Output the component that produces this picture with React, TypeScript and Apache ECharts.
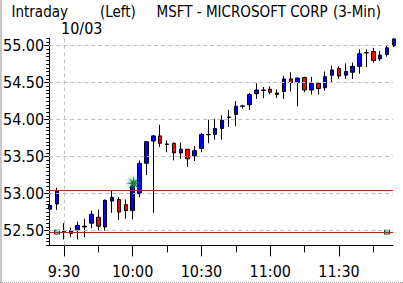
import React, { useEffect, useRef } from 'react';
import * as echarts from 'echarts';

// ---- data ----
const titleParts = ['Intraday', '(Left)', 'MSFT - MICROSOFT CORP', '(3-Min)'];
const dateLabel = '10/03';

const candleIndex = [
  0, 1, 2, 3, 4, 5, 6, 7, 8, 9, 10, 11, 12, 13, 14, 15, 16, 17, 18, 19, 20, 21, 22, 23, 24, 25,
  26, 27, 28, 29, 30, 31, 32, 33, 34, 35, 36, 37, 38, 39, 40, 41, 42, 43, 44, 45, 46, 47, 48, 49, 50,
];
const opens = [
  52.79, 52.86, 52.48, 52.46, 52.51, 52.55, 52.6, 52.68, 52.55, 52.9, 52.92, 52.85, 52.77, 53.0,
  53.41, 53.71, 53.78, 53.665, 53.68, 53.55, 53.6, 53.51, 53.61, 53.795, 53.8, 53.88, 54.03, 54.07,
  54.18, 54.2, 54.35, 54.395, 54.41, 54.36, 54.38, 54.55, 54.5, 54.57, 54.4, 54.49, 54.43, 54.6,
  54.69, 54.6, 54.64, 54.72, 54.9, 54.92, 54.82, 54.88, 55.0,
];
const closes = [
  52.84, 53.04, 52.49, 52.5, 52.57, 52.56, 52.72, 52.56, 52.91, 52.95, 52.75, 52.77, 53.1, 53.41,
  53.7, 53.78, 53.68, 53.67, 53.55, 53.6, 53.47, 53.58, 53.8, 53.8, 53.88, 53.99, 54.035, 54.18,
  54.185, 54.34, 54.4, 54.4, 54.37, 54.34, 54.55, 54.5, 54.56, 54.4, 54.49, 54.42, 54.58, 54.67,
  54.59, 54.65, 54.72, 54.89, 54.905, 54.8, 54.87, 54.97, 55.09,
];
const lows = [
  52.7, 52.78, 52.38, 52.41, 52.38, 52.41, 52.53, 52.5, 52.5, 52.74, 52.64, 52.66, 52.65, 52.95,
  53.25, 52.74, 53.63, 53.56, 53.45, 53.47, 53.36, 53.44, 53.56, 53.68, 53.73, 53.73, 53.9, 53.91,
  54.15, 54.13, 54.28, 54.29, 54.34, 54.29, 54.28, 54.38, 54.18, 54.37, 54.34, 54.34, 54.39, 54.5,
  54.55, 54.55, 54.55, 54.62, 54.71, 54.77, 54.79, 54.85, 54.98,
];
const highs = [
  52.95, 53.08, 52.6, 52.54, 52.62, 52.66, 52.77, 52.78, 52.92, 53.05, 52.95, 52.92, 53.16, 53.45,
  53.71, 53.79, 53.93, 53.72, 53.69, 53.69, 53.6, 53.64, 53.82, 54.0, 54.01, 54.06, 54.13, 54.25,
  54.2, 54.36, 54.49, 54.44, 54.45, 54.41, 54.59, 54.64, 54.57, 54.58, 54.58, 54.5, 54.65, 54.73,
  54.72, 54.76, 54.77, 54.95, 54.95, 54.97, 54.93, 55.0, 55.1,
];

const yLabelValues = [52.5, 53.0, 53.5, 54.0, 54.5, 55.0];
const xMajorIndex = [2, 12, 22, 32, 42];
const xMajorLabels = ['9:30', '10:00', '10:30', '11:00', '11:30'];
const xMinorIndex = [7, 17, 27, 37, 47];
const sessionStartIndex = 2;
const levelLines = [53.04, 52.48];
const levelMarkerIndex = [1, 49];
const signalPoint = [12.14, 53.14];

// ---- layout / style ----
const W = 403;
const H = 283;
const FONT = "'Liberation Sans Narrow', 'Arial Narrow', 'DejaVu Sans Condensed', 'Noto Sans', sans-serif";
const titleX = [11.5, 100, 156.5, 333];
const STAR =
  'path://M12 0L13.5 8.4L20.5 3.5L15.6 10.5L24 12L15.6 13.5L20.5 20.5L13.5 15.6L12 24L10.5 15.6L3.5 20.5L8.4 13.5L0 12L8.4 10.5L3.5 3.5L10.5 8.4Z';

export default function App() {
  const ref = useRef<HTMLDivElement>(null);

  useEffect(() => {
    if (!ref.current) return;
    const chart = echarts.init(ref.current, undefined, { renderer: 'svg' });
    const xMin = -1 / 7;
    const xMax = 50 - 1 / 7;
    const black = { color: '#000', width: 1 };

    const candleData = candleIndex.map((i) => [i, opens[i], closes[i], lows[i], highs[i]]);

    const option: any = {
      animation: false,
      backgroundColor: '#ffffff',
      grid: { left: 43, top: 38.2, width: 350, height: 207.2, containLabel: false },
      xAxis: [
        {
          type: 'value',
          min: xMin,
          max: xMax,
          position: 'bottom',
          axisLine: { show: true, onZero: false, lineStyle: black },
          axisTick: { show: true, customValues: xMajorIndex, length: 11, lineStyle: black },
          axisLabel: {
            show: true,
            customValues: xMajorIndex,
            formatter: (v: number) => {
              const k = xMajorIndex.indexOf(Math.round(v));
              return k >= 0 ? xMajorLabels[k] : '';
            },
            color: '#000',
            fontFamily: FONT,
            fontSize: 16,
            margin: 26,
            verticalAlign: 'middle',
          },
          splitLine: { show: false },
        },
        {
          type: 'value',
          min: xMin,
          max: xMax,
          position: 'bottom',
          axisLine: { show: false, onZero: false },
          axisTick: { show: true, customValues: xMinorIndex, length: 7, lineStyle: black },
          axisLabel: { show: false },
          splitLine: { show: false },
        },
      ],
      yAxis: [
        {
          type: 'value',
          min: 52.3,
          max: 55.1,
          interval: 0.05,
          position: 'left',
          axisLine: { show: true, onZero: false, lineStyle: black },
          axisTick: { show: true, length: 3, lineStyle: black },
          axisLabel: {
            show: true,
            customValues: yLabelValues,
            formatter: (v: number) => v.toFixed(2),
            color: '#000',
            fontFamily: FONT,
            fontSize: 16,
            margin: 5,
          },
          splitLine: { show: false },
        },
        {
          type: 'value',
          min: 52.3,
          max: 55.1,
          position: 'left',
          axisLine: { show: false, onZero: false },
          axisTick: { show: true, customValues: yLabelValues, length: 5, lineStyle: black },
          axisLabel: { show: false },
          splitLine: { show: false },
        },
      ],
      series: [
        {
          type: 'line',
          data: [],
          z: 1,
          silent: true,
          markLine: {
            silent: true,
            symbol: ['none', 'none'],
            label: { show: false },
            lineStyle: { color: '#c0c0c0', type: [4, 3], width: 1 },
            data: [...yLabelValues.map((v) => ({ yAxis: v })), { xAxis: sessionStartIndex }],
          },
        },
        {
          type: 'candlestick',
          data: candleData,
          dimensions: ['idx', 'open', 'close', 'lowest', 'highest'],
          encode: { x: 'idx', y: ['open', 'close', 'lowest', 'highest'] },
          barWidth: 4,
          clip: false,
          z: 2,
          silent: true,
          itemStyle: {
            color: '#0000ff',
            color0: '#ff0000',
            borderColor: '#000000',
            borderColor0: '#000000',
            borderColorDoji: '#000000',
            borderWidth: 1,
          },
        },
        {
          type: 'scatter',
          data: levelMarkerIndex.map((i) => [i, levelLines[1]]),
          symbol: 'rect',
          symbolSize: [5, 4],
          z: 3,
          silent: true,
          itemStyle: { color: '#30d0c8', borderColor: '#000', borderWidth: 1 },
          markLine: {
            silent: true,
            symbol: ['none', 'none'],
            label: { show: false },
            lineStyle: { color: '#ff0000', type: 'solid', width: 1 },
            data: levelLines.map((v) => ({ yAxis: v })),
          },
        },
        {
          type: 'scatter',
          data: [signalPoint],
          symbol: STAR,
          symbolSize: 15,
          z: 4,
          silent: true,
          itemStyle: {
            color: '#0f6b35',
            shadowBlur: 6,
            shadowColor: 'rgba(30,160,80,0.95)',
          },
        },
      ],
      graphic: [
        {
          type: 'rect',
          silent: true,
          shape: { x: 0, y: 0, width: 2, height: H },
          style: { fill: '#c8c8c8' },
        },
        {
          type: 'line',
          silent: true,
          shape: { x1: 0, y1: 282.5, x2: W, y2: 282.5 },
          style: { stroke: '#9a9a9a', lineWidth: 1, lineDash: [1, 1] },
        },
        ...titleParts.map((t, k) => ({
          type: 'text',
          silent: true,
          x: titleX[k],
          y: 11.5,
          style: {
            text: t,
            fill: '#000',
            fontFamily: FONT,
            fontSize: 15,
            align: 'left',
            verticalAlign: 'middle',
          },
        })),
        {
          type: 'text',
          silent: true,
          x: 61,
          y: 28,
          style: {
            text: dateLabel,
            fill: '#000',
            fontFamily: FONT,
            fontSize: 16,
            align: 'left',
            verticalAlign: 'middle',
          },
        },
      ],
    };

    chart.setOption(option);
    return () => chart.dispose();
  }, []);

  return (
    <div
      ref={ref}
      style={{ position: 'absolute', left: 0, top: 0, width: W, height: H, background: '#fff' }}
    />
  );
}
